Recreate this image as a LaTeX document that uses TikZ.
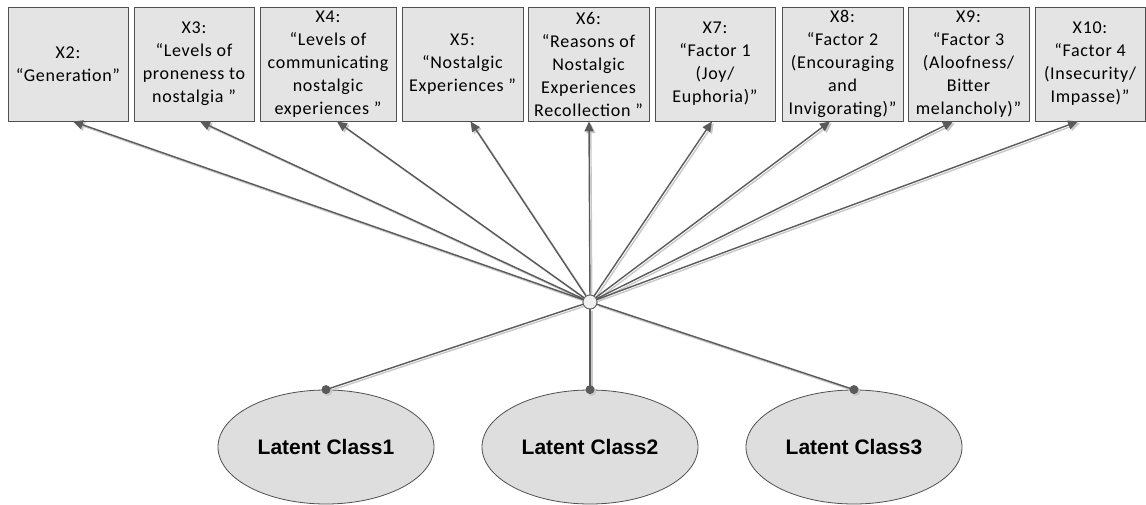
\documentclass[tikz,border=0pt]{standalone}
\usepackage{fontspec}
\newfontfamily\boxfont[LetterSpace=4]{Carlito}
\newfontfamily\ellfont{Liberation Sans}
\usetikzlibrary{arrows.meta,shapes.geometric}
\definecolor{boxfill}{HTML}{E4E4E4}
\definecolor{boxdraw}{HTML}{505050}
\definecolor{linecol}{HTML}{5A5A5A}
\definecolor{shadowcol}{HTML}{C8C8C8}
\definecolor{ellfill}{HTML}{DEDEDE}
\definecolor{hubfill}{HTML}{F0F0F0}
\begin{document}
\begin{tikzpicture}[x=1pt,y=-1pt,
  varbox/.style={draw=boxdraw, fill=boxfill, line width=0.9pt, minimum height=114pt,
    inner sep=0pt, align=center, font=\boxfont\fontsize{18}{23}\selectfont},
  latent/.style={ellipse, draw=boxdraw, fill=ellfill, line width=0.8pt, minimum width=216pt,
    minimum height=114pt, inner sep=0pt, font=\ellfont\bfseries\fontsize{21}{24}\selectfont},
  hub/.style={circle, draw=linecol, fill=hubfill, line width=0.8pt, minimum size=14pt, inner sep=0pt},
  conn/.style={draw=linecol, line width=1.4pt, -{Triangle[length=10pt,width=9pt]}},
  connshadow/.style={draw=shadowcol, line width=1.4pt, -{Triangle[length=10pt,width=9pt]},
    transform canvas={shift={(1.8pt,-1.8pt)}}},
  link/.style={draw=linecol, line width=1.4pt},
  linkshadow/.style={draw=shadowcol, line width=1.4pt, transform canvas={shift={(1.8pt,-1.8pt)}}}
]
\useasboundingbox (0,0) rectangle (1146,505);

\node[varbox, minimum width=120pt] (x2) at (68,64) {X2:\\“Generation”};
\node[varbox, minimum width=120pt] (x3) at (194,64) {X3:\\“Levels of\\proneness to\\nostalgia ”};
\node[varbox, minimum width=136pt] (x4) at (328,64) {X4:\\“Levels of\\communicating\\nostalgic\\experiences ”};
\node[varbox, minimum width=121pt] (x5) at (462.5,64) {X5:\\“Nostalgic\\Experiences ”};
\node[varbox, minimum width=121pt] (x6) at (588.5,64) {X6:\\“Reasons of\\Nostalgic\\Experiences\\Recollection ”};
\node[varbox, minimum width=120pt] (x7) at (715,64) {X7:\\“Factor 1\\(Joy/\\Euphoria)”};
\node[varbox, minimum width=121pt] (x8) at (842.5,64) {X8:\\“Factor 2\\(Encouraging\\and\\Invigorating)”};
\node[varbox, minimum width=121pt] (x9) at (968.5,64) {X9:\\“Factor 3\\(Aloofness/\\Bitter\\melancholy)”};
\node[varbox, minimum width=110pt] (x10) at (1090,64) {X10:\\“Factor 4\\(Insecurity/\\Impasse)”};

\node[hub] (c) at (590,302) {};

\node[latent] (e1) at (326,447) {Latent Class1};
\node[latent] (e2) at (590,447) {Latent Class2};
\node[latent] (e3) at (854,447) {Latent Class3};

\foreach \n/\s in {x2/5,x3/6,x4/9,x5/8,x6/0.5,x7/-3,x8/-12.5,x9/-15.5,x10/-12}{
  \draw[connshadow] (c) -- ([xshift=\s pt]\n.south);
}
\foreach \e in {e1,e2,e3}{
  \draw[linkshadow] (c) -- (\e.north);
  \fill[shadowcol, transform canvas={shift={(1.8pt,-1.8pt)}}] (\e.north) circle (4.5pt);
}
\foreach \n/\s in {x2/5,x3/6,x4/9,x5/8,x6/0.5,x7/-3,x8/-12.5,x9/-15.5,x10/-12}{
  \draw[conn] (c) -- ([xshift=\s pt]\n.south);
}
\foreach \e in {e1,e2,e3}{
  \draw[link] (c) -- (\e.north);
  \fill[linecol] (\e.north) circle (4.5pt);
}
\node[hub] at (c) {};
\end{tikzpicture}
\end{document}
